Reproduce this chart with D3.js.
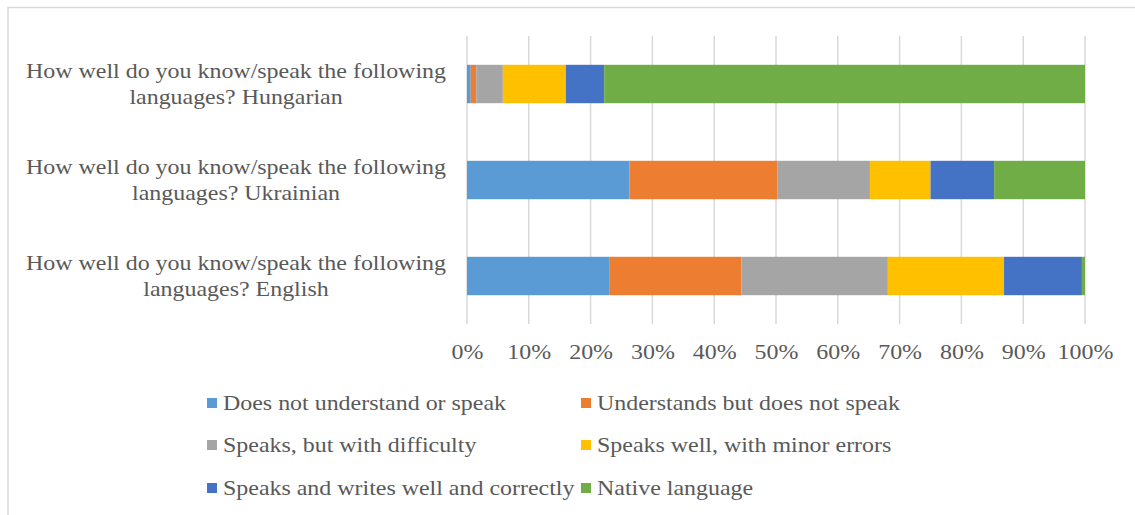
<!DOCTYPE html>
<html><head><meta charset="utf-8">
<script src="https://cdn.jsdelivr.net/npm/d3@7"></script>
<style>body{margin:0;background:#fff}svg{display:block}text{font-family:"Liberation Serif","Times New Roman",serif;fill:#595959}</style>
</head><body><svg id="c" width="1135" height="515"></svg>
<script>
const categories = [
  ["How well do you know/speak the following", "languages? Hungarian"],
  ["How well do you know/speak the following", "languages? Ukrainian"],
  ["How well do you know/speak the following", "languages? English"]
];
const seriesNames = ["Does not understand or speak","Understands but does not speak","Speaks, but with difficulty","Speaks well, with minor errors","Speaks and writes well and correctly","Native language"];
const colors = ["#5b9bd5","#ed7d31","#a5a5a5","#ffc000","#4472c4","#70ad47"];
const hungarian = [0.6, 0.9, 4.3, 10.2, 6.2, 77.8];
const ukrainian = [26.3, 23.9, 15.0, 9.8, 10.3, 14.7];
const english = [23.1, 21.3, 23.7, 18.8, 12.6, 0.5];
const tickValues = [0,10,20,30,40,50,60,70,80,90,100];

const SX = 1.14;
const values = [hungarian, ukrainian, english];
const svg = d3.select("#c");
svg.append("path").attr("d","M8,515 V7.5 H1135").attr("fill","none").attr("stroke","#d9d9d9").attr("stroke-width",1.5);

const x = d3.scaleLinear().domain([0,100]).range([467,1085]);
const y = d3.scaleBand().domain(d3.range(3)).range([36,324]).paddingInner(0.6).paddingOuter(0.3);

const g = svg.append("g");
g.selectAll("line.grid").data(tickValues).join("line")
 .attr("x1",d=>x(d)).attr("x2",d=>x(d)).attr("y1",36).attr("y2",324)
 .attr("stroke","#d9d9d9").attr("stroke-width",1.5);

values.forEach((vals,i)=>{
  let acc=0;
  vals.forEach((v,j)=>{
    g.append("rect").attr("x",x(acc)).attr("width",x(acc+v)-x(acc))
     .attr("y",y(i)).attr("height",y.bandwidth()).attr("fill",colors[j]);
    acc+=v;
  });
  const cy = y(i)+y.bandwidth()/2;
  categories[i].forEach((line,k)=>{
    g.append("text").attr("text-anchor","middle").attr("font-size",21)
     .attr("transform",`translate(236,${cy-6+k*26}) scale(${SX},1)`).text(line);
  });
});

const axis = d3.axisBottom(x).tickValues(tickValues).tickFormat(d=>d+"%").tickSize(0).tickPadding(0);
const ax = svg.append("g").attr("transform","translate(0,359)").call(axis);
ax.select(".domain").remove();
ax.selectAll("text").attr("font-size",21).attr("dy",0).attr("y",0).attr("transform",`scale(${SX},1)`)
  .style("font-family","Liberation Serif").attr("fill","#595959");

const lx=[207,581], ly=[403,445,488];
seriesNames.forEach((n,j)=>{
  const col=j%2,row=Math.floor(j/2);
  svg.append("rect").attr("x",lx[col]).attr("y",ly[row]-5).attr("width",10).attr("height",10).attr("fill",colors[j]);
  svg.append("text").attr("font-size",21)
   .attr("transform",`translate(${lx[col]+16},${ly[row]+7}) scale(${SX},1)`).text(n);
});
</script></body></html>
